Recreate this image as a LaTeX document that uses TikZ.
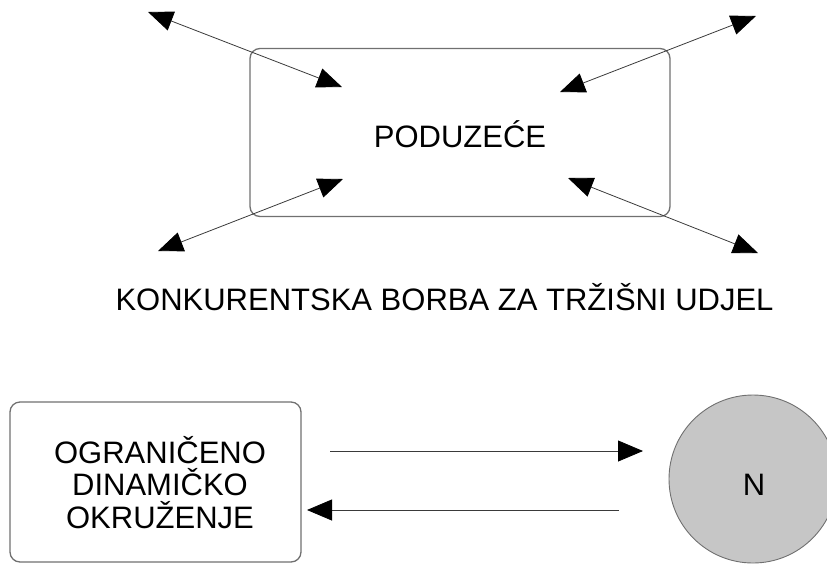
\documentclass[tikz,border=0pt]{standalone}
\usepackage{fontspec}
\setmainfont{Liberation Sans}
\usetikzlibrary{arrows.meta}
\definecolor{boxline}{HTML}{707070}
\definecolor{arrline}{HTML}{3A3A3A}
\definecolor{circfill}{HTML}{C6C6C6}
\begin{document}
\begin{tikzpicture}[x=1pt,y=-1pt,
  bigtext/.style={font=\fontsize{31}{33}\selectfont, inner sep=0pt},
  roundbox/.style={draw=boxline, line width=1.3pt, rounded corners=10pt, inner sep=0pt},
  conn/.style={draw=arrline, line width=0.8pt, -{Triangle[length=25pt,width=21pt,black]}},
  dconn/.style={draw=arrline, line width=0.8pt, {Triangle[length=25pt,width=20pt,black]}-{Triangle[length=25pt,width=20pt,black]}}]
\useasboundingbox (0,0) rectangle (827,563);
% top box
\node[roundbox, minimum width=420pt, minimum height=168pt] (pod) at (460,132.5) {};
\node[bigtext, anchor=base] (podt) at (460,147) {PODUZEĆE};
% diagonal arrows
\coordinate (a1s) at (148,12);  \coordinate (a1e) at (342,87);
\coordinate (a2s) at (756,16);  \coordinate (a2e) at (560,92);
\coordinate (a3s) at (343,179); \coordinate (a3e) at (158,251);
\coordinate (a4s) at (568,178); \coordinate (a4e) at (758,253);
\draw[dconn] (a1s) -- (a1e);
\draw[dconn] (a2s) -- (a2e);
\draw[dconn] (a3s) -- (a3e);
\draw[dconn] (a4s) -- (a4e);
% middle text
\node[bigtext, anchor=base] (konk) at (444.5,310) {KONKURENTSKA BORBA ZA TRŽIŠNI UDJEL};
% bottom box
\node[roundbox, minimum width=291pt, minimum height=160pt] (okr) at (155.5,482) {};
\node[bigtext, anchor=base] (l1) at (160,463) {OGRANIČENO};
\node[bigtext, anchor=base] (l2) at (160,495.5) {DINAMIČKO};
\node[bigtext, anchor=base] (l3) at (160,528) {OKRUŽENJE};
% circle
\node[circle, draw=boxline, line width=0.9pt, fill=circfill, minimum size=168pt, inner sep=0pt] (n) at (753,479) {};
\node[bigtext, anchor=base] (nt) at (754,495) {N};
% horizontal arrows
\coordinate (h1s) at (330,451); \coordinate (h1e) at (643,451);
\coordinate (h2s) at (619,510); \coordinate (h2e) at (307,510);
\draw[conn] (h1s) -- (h1e);
\draw[conn] (h2s) -- (h2e);
\end{tikzpicture}
\end{document}
